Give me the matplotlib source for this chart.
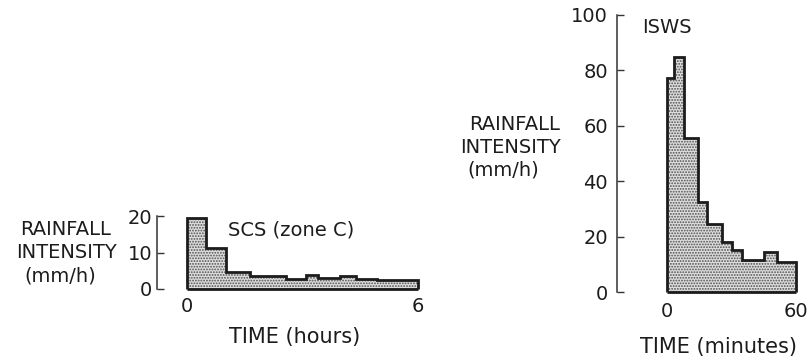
import matplotlib
matplotlib.use("Agg")
import matplotlib.pyplot as plt

# Design storm hyetographs
scs_edges = [0, 0.5, 1.02, 1.64, 2.57, 3.1, 3.4, 3.97, 4.4, 4.94, 6.0]        # hours
scs_intensity = [19.5, 11.2, 4.7, 3.6, 2.7, 3.8, 3.0, 3.6, 2.7, 2.5]           # mm/h
isws_edges = [0, 3.3, 7.9, 14.4, 18.6, 25.6, 30.2, 34.9, 45.1, 51.2, 60]        # minutes
isws_intensity = [77.3, 84.8, 55.6, 32.5, 24.5, 18.0, 15.2, 11.5, 14.4, 10.8]  # mm/h

scs_yticks = [0, 10, 20]
scs_xticks = [0, 6]
isws_yticks = [0, 20, 40, 60, 80, 100]
isws_xticks = [0, 60]

ylabel_lines = ["RAINFALL", "INTENSITY", "(mm/h)"]

W, H = 810, 358
INK = "#1c1c1c"
plt.rcParams["font.family"] = ["DejaVu Sans"]
plt.rcParams["hatch.linewidth"] = 0.9

fig = plt.figure(figsize=(W / 100, H / 100), dpi=100)


def px_axes(x0, x1, ytop, ybot):
    return fig.add_axes([x0 / W, (H - ybot) / H, (x1 - x0) / W, (ybot - ytop) / H])


def hyetograph(ax, edges, values, xlim, ylim, yticks, xticks, long_tick, ypad, xpad):
    ax.set_xlim(*xlim)
    ax.set_ylim(*ylim)
    # stippled fill
    ax.stairs(values, edges, fill=True, facecolor="#dedede", edgecolor="#505050",
              linewidth=0, hatch="......", clip_on=False)
    # outline of the hyetograph
    ax.stairs(values, edges, baseline=0, color=INK, linewidth=2.0, clip_on=False)
    ax.hlines(0, edges[0], edges[-1], color=INK, linewidth=2.0, clip_on=False)
    for side in ("top", "right", "bottom"):
        ax.spines[side].set_visible(False)
    ax.spines["left"].set_color("#333333")
    ax.spines["left"].set_linewidth(1.1)
    ax.set_yticks(yticks)
    ax.set_yticks([0], minor=True)
    ax.set_xticks(xticks)
    ax.tick_params(axis="y", which="major", direction="in", length=5, width=1,
                   color="#333333", pad=ypad, labelsize=14, labelcolor=INK)
    ax.tick_params(axis="y", which="minor", direction="in", length=long_tick, width=1.1,
                   color="#333333")
    ax.tick_params(axis="x", length=0, pad=xpad, labelsize=14, labelcolor=INK)
    ax.patch.set_alpha(0)


# SCS (zone C): spine at x=157 px, 0 h at 187 px, 6 h at 418 px
ax1 = px_axes(157, 420, 216, 289)
hyetograph(ax1, scs_edges, scs_intensity, (-30 / 38.5, 6 + 2 / 38.5), (0, 20),
           scs_yticks, scs_xticks, long_tick=9.5, ypad=3.5, xpad=6)

# ISWS: spine at x=617 px, 0 min at 667 px, 60 min at 796 px
ax2 = px_axes(617, 798, 15, 292)
hyetograph(ax2, isws_edges, isws_intensity, (-50 / 2.15, 60 + 2 / 2.15), (0, 100),
           isws_yticks, isws_xticks, long_tick=16.5, ypad=6.5, xpad=7)


def ftext(x, y, s, size=14, ha="center"):
    fig.text(x / W, 1 - y / H, s, ha=ha, va="baseline", fontsize=size, color=INK)


# titles
ftext(228, 235, "SCS (zone C)", size=14, ha="left")
ftext(642, 33, "ISWS", size=14, ha="left")

# y labels
for (cx, base), line in zip([(66, 235), (67, 258), (60, 281)], ylabel_lines):
    ftext(cx, base, line)
for (cx, base), line in zip([(515, 130), (511, 153), (503, 176)], ylabel_lines):
    ftext(cx, base, line)

# x labels
ftext(295, 343, "TIME (hours)", size=15)
ftext(718, 353, "TIME (minutes)", size=15)

fig.savefig("out.png", dpi=100, facecolor="white")
